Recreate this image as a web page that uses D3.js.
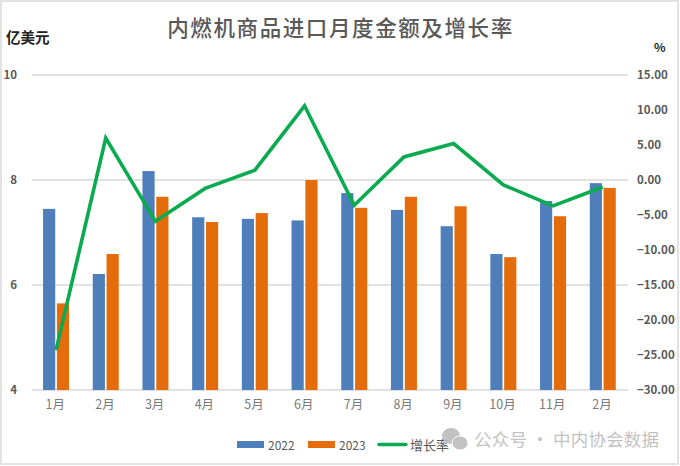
<!DOCTYPE html>
<html lang="zh">
<head>
<meta charset="UTF-8">
<title>内燃机商品进口月度金额及增长率</title>
<script src="https://d3js.org/d3.v7.min.js"></script>
<style>
  html, body { margin: 0; padding: 0; background: #fff; }
  svg { display: block; }
  text { font-family: "Noto Sans CJK SC", sans-serif; }
</style>
</head>
<body>
<script>
// values
const months = ["1月", "2月", "3月", "4月", "5月", "6月", "7月", "8月", "9月", "10月", "11月", "2月"];
const values2022 = [7.45, 6.21, 8.17, 7.29, 7.26, 7.23, 7.75, 7.43, 7.12, 6.59, 7.60, 7.94];
const values2023 = [5.65, 6.59, 7.68, 7.20, 7.37, 8.00, 7.47, 7.68, 7.50, 6.53, 7.31, 7.85];
const growth = [-24.3, 6.0, -5.9, -1.2, 1.4, 10.6, -3.6, 3.3, 5.2, -0.7, -3.7, -1.0];
const leftTicks = [4, 6, 8, 10];
const rightTicks = [-30, -25, -20, -15, -10, -5, 0, 5, 10, 15];

const width = 680, height = 466;
const plotLeft = 32, plotRight = 628, plotTop = 75, plotBottom = 390;

const svg = d3.select("body").append("svg")
  .attr("width", width)
  .attr("height", height);

svg.append("rect")
  .attr("x", 1).attr("y", 1)
  .attr("width", width - 3).attr("height", height - 3)
  .attr("fill", "#fff")
  .attr("stroke", "#d9d9d9")
  .attr("stroke-width", 1.5);

// months repeat ("2月" twice), so the band scale runs on the index
const x = d3.scaleBand().domain(d3.range(months.length)).range([plotLeft - 0.8, plotRight - 0.4]);
const xBar = d3.scaleBand().domain(["a", "b"]).range([0, 26]).paddingInner(0.12);
const yLeft = d3.scaleLinear().domain([4, 10]).range([plotBottom, plotTop]);
const yRight = d3.scaleLinear().domain([-30, 15]).range([plotBottom, plotTop]);

// gridlines
svg.append("g").selectAll("line")
  .data(leftTicks)
  .join("line")
  .attr("x1", plotLeft).attr("x2", plotRight)
  .attr("y1", d => yLeft(d)).attr("y2", d => yLeft(d))
  .attr("stroke", "#d9d9d9")
  .attr("stroke-width", 1.4);

// bars
const barOffset = i => x(i) + x.bandwidth() / 2 - 13;
svg.append("g").selectAll("rect")
  .data(values2022)
  .join("rect")
  .attr("x", (d, i) => barOffset(i) + xBar("a"))
  .attr("y", d => yLeft(d))
  .attr("width", xBar.bandwidth())
  .attr("height", d => plotBottom - yLeft(d))
  .attr("fill", "#4e7fba");

svg.append("g").selectAll("rect")
  .data(values2023)
  .join("rect")
  .attr("x", (d, i) => barOffset(i) + xBar("b"))
  .attr("y", d => yLeft(d))
  .attr("width", xBar.bandwidth())
  .attr("height", d => plotBottom - yLeft(d))
  .attr("fill", "#e56c0a");

// growth line
const line = d3.line()
  .x((d, i) => x(i) + x.bandwidth() / 2)
  .y(d => yRight(d));

svg.append("path")
  .datum(growth)
  .attr("d", line)
  .attr("fill", "none")
  .attr("stroke", "#0aab50")
  .attr("stroke-width", 3.6)
  .attr("stroke-linejoin", "miter");

// axes
const axisLeft = d3.axisLeft(yLeft).tickValues(leftTicks).tickSize(0).tickPadding(15)
  .tickFormat(d3.format("d"));
const gLeft = svg.append("g").attr("transform", `translate(${plotLeft},0)`).call(axisLeft);
gLeft.select(".domain").remove();
gLeft.selectAll("text")
  .attr("font-size", 11.5).attr("font-weight", 700)
  .attr("font-family", "Liberation Sans")
  .attr("fill", "#595959");

const axisRight = d3.axisRight(yRight).tickValues(rightTicks).tickSize(0).tickPadding(9)
  .tickFormat(d3.format(".2f"));
const gRight = svg.append("g").attr("transform", `translate(${plotRight},0)`).call(axisRight);
gRight.select(".domain").remove();
gRight.selectAll("text")
  .attr("font-size", 11.5)
  .attr("font-family", "Liberation Sans")
  .attr("font-weight", 700)
  .attr("fill", "#595959");

const axisBottom = d3.axisBottom(x).tickSize(0).tickPadding(10).tickFormat(i => months[i]);
const gBottom = svg.append("g").attr("transform", `translate(-0.8,${plotBottom})`).call(axisBottom);
gBottom.select(".domain").remove();
gBottom.selectAll("text")
  .attr("font-size", 12.5)
  .attr("fill", "#7a7a7a");

// titles
svg.append("text")
  .attr("x", 340.5).attr("y", 36)
  .attr("text-anchor", "middle")
  .attr("font-size", 21.5)
  .attr("font-weight", 500)
  .attr("letter-spacing", 1.6)
  .attr("fill", "#595959")
  .text("内燃机商品进口月度金额及增长率");

svg.append("text")
  .attr("x", 6).attr("y", 43)
  .attr("font-size", 14.5)
  .attr("font-weight", 700)
  .attr("fill", "#222")
  .text("亿美元");

svg.append("text")
  .attr("x", 654).attr("y", 52)
  .attr("font-size", 12)
  .attr("font-weight", 700)
  .attr("font-family", "Liberation Sans")
  .attr("fill", "#222")
  .text("%");

// legend
const legend = svg.append("g").attr("font-size", 12).attr("fill", "#595959");
legend.append("rect").attr("x", 237).attr("y", 441).attr("width", 27).attr("height", 7).attr("fill", "#4e7fba");
legend.append("text").attr("x", 268).attr("y", 449.5).attr("font-family", "Liberation Sans").text("2022");
legend.append("rect").attr("x", 308).attr("y", 441).attr("width", 27).attr("height", 7).attr("fill", "#e56c0a");
legend.append("text").attr("x", 339).attr("y", 449.5).attr("font-family", "Liberation Sans").text("2023");
legend.append("line").attr("x1", 379).attr("x2", 406).attr("y1", 444.5).attr("y2", 444.5)
  .attr("stroke", "#0aab50").attr("stroke-width", 3.4).attr("stroke-linecap", "round");
legend.append("text").attr("x", 410).attr("y", 449.5).attr("font-size", 13).text("增长率");

// watermark
const mark = svg.append("g").attr("fill", "#bcbcbc").attr("opacity", 0.9);
mark.append("ellipse").attr("cx", 451).attr("cy", 436).attr("rx", 9).attr("ry", 8);
mark.append("ellipse").attr("cx", 460).attr("cy", 443).attr("rx", 8).attr("ry", 7)
  .attr("stroke", "#fff").attr("stroke-width", 1);
mark.append("text")
  .attr("x", 474).attr("y", 446)
  .attr("font-size", 17.5)
  .attr("letter-spacing", 0.2)
  .text("公众号 · 中内协会数据");
</script>
</body>
</html>
